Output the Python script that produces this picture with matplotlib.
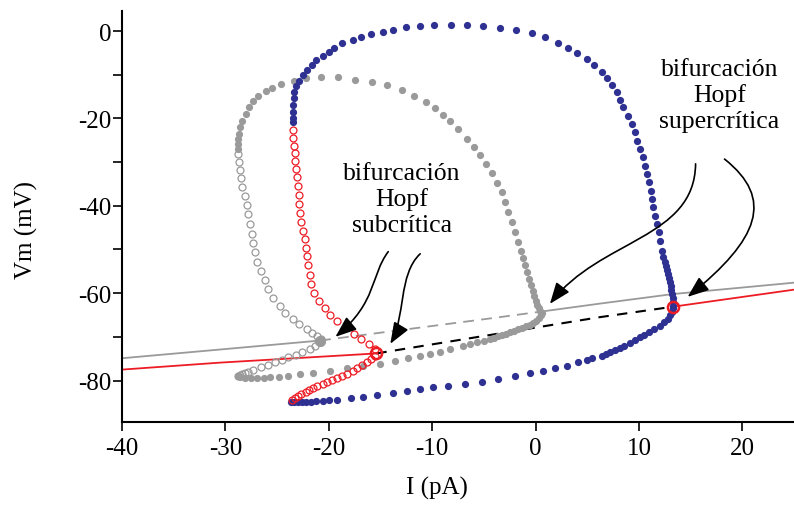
import matplotlib
matplotlib.use("Agg")
import matplotlib.pyplot as plt
from matplotlib.patches import FancyArrowPatch
from matplotlib.path import Path
from matplotlib.ticker import MultipleLocator

plt.rcParams['font.family'] = ['Liberation Serif', 'DejaVu Serif']
plt.rcParams['axes.unicode_minus'] = False

# steady-state branches (I in pA, Vm in mV)
gray_ss_I = [-40, -30.5, -20.85, -5.4, 0.6, 6.2, 13.3, 25]
gray_ss_V = [-74.9, -72.9, -70.85, -66.1, -64.2, -62.4, -60.2, -57.6]
red_ss_I = [-40, -30.5, -15.4, 6.2, 13.3, 25]
red_ss_V = [-77.5, -75.9, -73.8, -65.5, -63.1, -59.2]

# Hopf points
hopf_red_I = [-15.4, 13.3]
hopf_red_V = [-73.8, -63.1]
hopf_gray_I = [-20.85, 0.6]
hopf_gray_V = [-70.85, -64.2]

# stable limit cycle (blue): max and min of Vm
blue_max_I = [13.3, 13.3, 13.25, 13.2, 13.15, 13.1, 13.05, 12.95, 12.8, 12.7, 12.6, 12.5,
              12.35, 12.2, 12.05, 11.9, 11.7, 11.6, 11.4, 11.3, 11.15, 10.95, 10.75, 10.55,
              10.35, 10.1, 9.8, 9.6, 9.3, 8.9, 8.5, 8.2, 7.85, 7.4, 6.9, 6.4, 5.7, 5.0, 4.0,
              3.1, 2.2, 0.9, -0.35, -1.9, -3.4, -5.1, -6.6, -8.2, -9.8, -11.2, -12.5, -13.8,
              -14.8, -15.9, -16.9, -17.7, -18.7, -19.5, -20.0, -20.6, -21.2, -21.6, -22.1,
              -22.45, -22.9, -23.2, -23.4, -23.4, -23.5, -23.5, -23.5, -23.5]
blue_max_V = [-62.9, -62.0, -61.1, -60.2, -59.2, -58.3, -57.4, -56.5, -55.6, -54.7, -53.8, -52.8,
              -51.7, -50.3, -48.0, -46.0, -44.1, -42.3, -40.3, -38.4, -36.6, -34.5, -32.7, -30.9,
              -28.8, -27.0, -25.2, -23.1, -21.3, -19.4, -17.4, -15.8, -13.9, -12.3, -10.7, -9.4,
              -7.8, -6.4, -5.0, -3.9, -2.7, -1.35, -0.4, 0.25, 0.7, 1.15, 1.4, 1.4, 1.4, 1.15,
              0.95, 0.25, -0.2, -0.65, -1.35, -2.0, -2.7, -3.9, -4.8, -5.7, -6.6, -7.8, -8.9,
              -10.05, -11.4, -12.6, -14.0, -15.3, -16.9, -18.5, -19.9, -20.8]
blue_min_I = [13.3, 13.2, 13.0, 12.8, 12.4, 12.0, 11.5, 11.0, 10.5, 10.1, 9.6, 9.1, 8.6, 8.15,
              7.7, 7.2, 6.8, 6.4, 5.5, 5.0, 4.1, 3.0, 1.9, 0.7, -0.5, -2.0, -3.6, -5.2, -6.8,
              -8.5, -9.9, -11.2, -12.4, -13.8, -15.3, -16.7, -17.9, -19.2, -20.0, -20.6, -21.2,
              -21.7, -22.2, -22.6, -23.0, -23.35, -23.65]
blue_min_V = [-63.4, -64.2, -65.0, -65.9, -66.7, -67.5, -68.2, -68.9, -69.5, -70.0, -70.7, -71.4,
              -72.0, -72.5, -73.0, -73.4, -73.9, -74.35, -74.8, -75.3, -75.7, -76.6, -77.1, -77.9,
              -78.2, -78.9, -79.6, -80.3, -80.8, -81.2, -81.4, -81.9, -82.4, -82.8, -83.3, -83.7,
              -84.0, -84.4, -84.5, -84.65, -84.75, -84.85, -84.95, -85.0, -85.0, -85.0, -84.9]

# unstable limit cycle (red, open)
red_max_I = [-23.5, -23.5, -23.4, -23.3, -23.3, -23.2, -23.1, -23.0, -22.9, -22.85, -22.75,
             -22.65, -22.45, -22.35, -22.25, -22.15, -22.05, -21.85, -21.7, -21.4, -20.9, -20.4,
             -19.85, -19.2, -18.4, -17.6, -16.85, -16.1, -15.5]
red_max_V = [-22.6, -24.5, -26.3, -27.9, -29.7, -31.6, -33.4, -35.45, -37.5, -39.6, -41.6,
             -43.7, -45.7, -47.6, -49.6, -51.5, -53.5, -55.8, -57.9, -59.9, -61.8, -63.4,
             -65.0, -66.3, -67.9, -69.3, -70.5, -71.6, -72.75]
red_min_I = [-15.5, -15.9, -16.3, -16.75, -17.25, -17.7, -18.2, -18.7, -19.2, -19.65, -20.15,
             -20.6, -21.1, -21.5, -21.9, -22.25, -22.65, -23.0, -23.3, -23.6]
red_min_V = [-74.35, -75.0, -75.7, -76.4, -77.1, -77.8, -78.5, -78.9, -79.4, -79.85, -80.3,
             -80.75, -81.2, -81.7, -82.1, -82.6, -83.0, -83.5, -83.95, -84.4]

# second cell (gray): stable cycle filled, unstable cycle open
gray_max_I = [-28.75, -28.75, -28.75, -28.65, -28.55, -28.35, -28.05, -27.75, -27.3, -26.8,
              -26.1, -25.45, -24.65, -23.4, -22.25, -20.8, -19.15, -17.45, -15.8, -14.35,
              -12.9, -11.75, -10.6, -9.7, -8.95, -8.25, -7.5, -6.6, -5.95, -5.35, -4.8, -4.2,
              -3.75, -3.25, -2.95, -2.65, -2.3, -2.0, -1.7, -1.4, -1.2, -1.0, -0.85, -0.65,
              -0.45, -0.25, -0.15, 0.05, 0.15, 0.35, 0.45, 0.6]
gray_max_V = [-27.0, -25.8, -24.7, -23.55, -21.95, -20.6, -19.0, -17.4, -16.0, -14.85, -13.7,
              -13.0, -12.1, -11.4, -10.75, -10.5, -10.5, -11.2, -11.65, -12.35, -13.5, -14.85,
              -16.2, -17.6, -19.2, -20.55, -22.4, -24.7, -26.5, -28.35, -30.4, -32.5, -34.75,
              -36.8, -39.1, -41.4, -43.7, -46.0, -48.25, -50.3, -51.9, -53.5, -55.1, -56.7,
              -58.1, -59.5, -60.6, -61.8, -62.7, -63.35, -64.05, -64.5]
gray_min_I = [0.5, 0.35, 0.05, -0.25, -0.55, -0.95, -1.3, -1.7, -2.1, -2.45, -2.85, -3.25,
              -3.65, -4.0, -4.4, -5.0, -5.65, -6.35, -7.0, -8.25, -9.25, -10.2, -11.15, -12.3,
              -13.55, -15.0, -16.65, -18.2, -19.85, -21.5, -22.75, -23.9, -24.85, -25.65,
              -26.3, -26.9, -27.55, -28.15, -28.55, -28.8]
gray_min_V = [-65.0, -65.65, -66.35, -66.8, -67.25, -67.6, -67.95, -68.3, -68.6, -68.95, -69.3,
              -69.55, -69.9, -70.2, -70.45, -70.9, -71.25, -71.7, -72.05, -72.75, -73.45, -73.9,
              -74.35, -74.8, -75.5, -76.2, -76.65, -77.1, -77.8, -78.25, -78.6, -78.9, -79.15,
              -79.25, -79.4, -79.4, -79.4, -79.4, -79.25, -79.05]
gray_open_max_I = [-28.75, -28.65, -28.55, -28.45, -28.35, -28.15, -27.95, -27.85, -27.65,
                   -27.45, -27.3, -27.1, -26.9, -26.6, -26.2, -25.85, -25.35, -24.75, -24.2,
                   -23.5, -22.85, -22.15, -21.6, -21.1, -20.8]
gray_open_max_V = [-28.1, -29.95, -31.8, -33.6, -35.7, -37.75, -39.8, -41.85, -44.15, -46.45,
                   -48.5, -50.55, -52.85, -54.9, -56.95, -59.0, -61.1, -62.9, -64.5, -65.9,
                   -67.0, -68.2, -69.1, -69.75, -70.45]
gray_open_min_I = [-20.8, -21.3, -21.85, -22.55, -23.2, -23.9, -24.55, -25.25, -25.9, -26.6,
                   -27.3, -27.85, -28.1, -28.35, -28.55, -28.75]
gray_open_min_V = [-71.15, -72.05, -72.75, -73.45, -74.1, -74.7, -75.25, -75.85, -76.4, -77.0,
                   -77.55, -78.0, -78.25, -78.45, -78.7, -78.9]

BLUE = '#2e3192'
GRAY = '#9a9a9a'
RED = '#ed1c24'

fig = plt.figure(figsize=(7.94, 5.06), dpi=100)
ax = fig.add_axes([0.1537, 0.164, 0.8463, 0.8123])

# steady states: solid where stable, dashed between the Hopf points
ax.plot(gray_ss_I[:3], gray_ss_V[:3], color=GRAY, lw=1.3, zorder=1)
ax.plot(gray_ss_I[2:5], gray_ss_V[2:5], color=GRAY, lw=1.3, ls=(0, (6, 4)), zorder=1)
ax.plot(gray_ss_I[4:], gray_ss_V[4:], color=GRAY, lw=1.3, zorder=1)
ax.plot(red_ss_I[:3], red_ss_V[:3], color=RED, lw=1.3, zorder=1)
ax.plot(red_ss_I[2:5], red_ss_V[2:5], color='black', lw=1.5, ls=(0, (5, 4)), zorder=1)
ax.plot(red_ss_I[4:], red_ss_V[4:], color=RED, lw=1.3, zorder=1)

dot = dict(ls='none', marker='o', ms=5.2, mec='none')
ring = dict(ls='none', marker='o', ms=5.0, mfc='none', mew=0.9)
ax.plot(gray_max_I, gray_max_V, color=GRAY, zorder=2, **dot)
ax.plot(gray_min_I, gray_min_V, color=GRAY, zorder=2, **dot)
ax.plot(gray_open_max_I, gray_open_max_V, mec=GRAY, zorder=2, **ring)
ax.plot(gray_open_min_I, gray_open_min_V, mec=GRAY, zorder=2, **ring)
ax.plot(hopf_gray_I[:1], hopf_gray_V[:1], ls='none', marker='o', ms=8, color=GRAY,
        mec='none', zorder=2)

ax.plot(blue_max_I, blue_max_V, color=BLUE, zorder=3, **dot)
ax.plot(blue_min_I, blue_min_V, color=BLUE, zorder=3, **dot)
ax.plot(red_max_I, red_max_V, mec=RED, zorder=3, **ring)
ax.plot(red_min_I, red_min_V, mec=RED, zorder=3, **ring)
ax.plot(hopf_red_I, hopf_red_V, ls='none', marker='o', ms=8, mfc='none', mec=RED,
        mew=1.8, zorder=4)

ax.set_xlim(-40, 25)
ax.set_ylim(-89.5, 4.6)
ax.xaxis.set_major_locator(MultipleLocator(10))
ax.yaxis.set_major_locator(MultipleLocator(20))
ax.yaxis.set_minor_locator(MultipleLocator(10))
for side in ('top', 'right'):
    ax.spines[side].set_visible(False)
for side in ('left', 'bottom'):
    ax.spines[side].set_linewidth(1.5)
ax.tick_params(which='both', direction='out', length=6.5, width=1.2, labelsize=18)
ax.tick_params(axis='y', pad=1)
ax.tick_params(axis='x', pad=4)

ax.set_xlabel('I (pA)', fontsize=18)
ax.xaxis.set_label_coords(0.469, -0.13)
ax.set_ylabel('Vm (mV)', fontsize=18)
ax.yaxis.set_label_coords(-0.125, 0.47)

ax.text(-12.9, -38.4, 'bifurcación\nHopf\nsubcrítica', ha='center', va='center',
        fontsize=18.5, linespacing=1.2)
ax.text(17.8, -14.6, 'bifurcación\nHopf\nsupercrítica', ha='center', va='center',
        fontsize=18.5, linespacing=1.2)

# curved pointers from the labels to the Hopf points
arrow_paths = [
    [(-14.25, -50.5), (-15.98, -56.0), (-15.31, -62.0), (-19.36, -70.0)],
    [(-11.16, -51.0), (-13.28, -55.6), (-12.61, -65.9), (-14.05, -71.6)],
    [(15.48, -30.4), (15.39, -47.6), (6.22, -47.6), (1.39, -62.45)],
    [(18.28, -29.3), (23.11, -38.4), (21.66, -47.6), (14.71, -60.85)],
]
for pts in arrow_paths:
    path = Path(pts, [Path.MOVETO, Path.CURVE4, Path.CURVE4, Path.CURVE4])
    ax.add_patch(FancyArrowPatch(path=path, arrowstyle='-|>,head_length=0.65,head_width=0.25',
                                 mutation_scale=20, lw=1.2, color='black', zorder=5))

fig.savefig('out.png', dpi=100)
